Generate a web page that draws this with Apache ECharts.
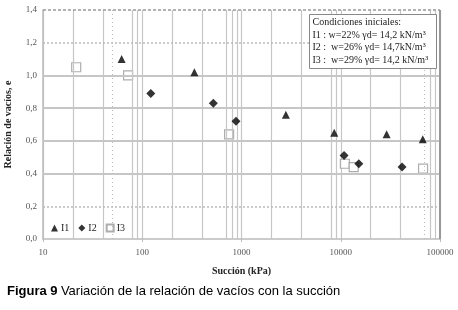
<!DOCTYPE html>
<html>
<head>
<meta charset="utf-8">
<script src="https://cdn.jsdelivr.net/npm/echarts@6/dist/echarts.min.js"></script>
<style>
  html, body { margin: 0; padding: 0; background: #fff; }
  #chart { width: 458px; height: 310px; }
</style>
</head>
<body>
<div id="chart"></div>
<script>
  // datos: [succion kPa, e]
  const serieI1 = [[62, 1.10], [335, 1.02], [2800, 0.76], [8600, 0.65], [29000, 0.64], [67000, 0.61]];
  const serieI2 = [[122, 0.89], [520, 0.83], [880, 0.72], [10800, 0.51], [15200, 0.46], [41500, 0.44]];
  const serieI3 = [[21.6, 1.05], [72, 1.0], [750, 0.64], [11000, 0.46], [13500, 0.44], [67500, 0.43]];
  const nombres = ['I1', 'I2', 'I3'];
  const condiciones = [
    'Condiciones iniciales:',
    'I1 : w=22% \u03b3d= 14,2 kN/m\u00b3',
    'I2 :  w=26% \u03b3d= 14,7kN/m\u00b3',
    'I3 :  w=29% \u03b3d= 14,2 kN/m\u00b3'
  ];

  const serif = '"Liberation Serif", "DejaVu Serif", serif';
  const grisRejilla = '#c6c6c6';

  // lineas de rejilla secundarias (como en el Excel original)
  const verticales = [];
  [10, 100, 1000, 10000].forEach(function(d) {
    [2, 4, 8, 9].forEach(function(m) {
      verticales.push({xAxis: d * m, lineStyle: {type: 'solid', color: grisRejilla, width: 1.2}});
    });
  });
  verticales.push({xAxis: 700, lineStyle: {type: 'solid', color: grisRejilla, width: 1.2}});
  verticales.push({xAxis: 50, lineStyle: {type: [1, 3], color: '#bbb', width: 1}});
  verticales.push({xAxis: 70000, lineStyle: {type: [1, 3], color: '#bbb', width: 1}});
  const horizontales = [
    {yAxis: 0.4, lineStyle: {type: 'solid', color: grisRejilla, width: 2}},
    {yAxis: 0.6, lineStyle: {type: 'solid', color: grisRejilla, width: 2}},
    {yAxis: 0.8, lineStyle: {type: 'solid', color: grisRejilla, width: 2}},
    {yAxis: 1.0, lineStyle: {type: 'solid', color: grisRejilla, width: 2}},
    {yAxis: 0.2, lineStyle: {type: [2, 2], color: '#bbb', width: 1.5}},
    {yAxis: 1.2, lineStyle: {type: [2, 2], color: '#bbb', width: 1.5}},
    {yAxis: 1.4, lineStyle: {type: [3, 2], color: '#999', width: 1.5}}
  ];

  const chart = echarts.init(document.getElementById('chart'), null, {renderer: 'canvas'});
  const options = {
    animation: false,
    backgroundColor: '#fff',
    grid: {left: 43, right: 18, top: 10, bottom: 71, containLabel: false, outerBoundsMode: 'none'},
    legend: {
      left: 46,
      top: 218,
      itemWidth: 7,
      itemHeight: 7,
      itemGap: 9,
      data: nombres,
      textStyle: {fontFamily: serif, fontSize: 10, color: '#222', padding: [0, 0, 0, -2]}
    },
    xAxis: {
      type: 'log',
      logBase: 10,
      min: 10,
      max: 100000,
      name: 'Succión (kPa)',
      nameLocation: 'middle',
      nameGap: 27,
      nameTextStyle: {fontFamily: serif, fontSize: 10, fontWeight: 'bold', color: '#222'},
      axisLine: {lineStyle: {color: '#bbb', width: 1.5}},
      axisTick: {show: true, length: 3, inside: false, lineStyle: {color: '#bbb'}},
      axisLabel: {
        fontFamily: serif, fontSize: 9, color: '#555', margin: 9,
        formatter: function(v) { return String(Math.round(v)); }
      },
      splitLine: {show: true, lineStyle: {color: grisRejilla, width: 1.2}}
    },
    yAxis: {
      type: 'value',
      min: 0,
      max: 1.4,
      interval: 0.2,
      name: 'Relación de vacíos, e',
      nameLocation: 'middle',
      nameGap: 30,
      nameTextStyle: {fontFamily: serif, fontSize: 10, fontWeight: 'bold', color: '#222'},
      axisLine: {show: true, lineStyle: {color: '#bbb', width: 1.5}},
      axisTick: {show: false},
      axisLabel: {
        fontFamily: serif, fontSize: 9, color: '#555', margin: 6,
        formatter: function(v) { return v.toFixed(1).replace('.', ','); }
      },
      splitLine: {show: false}
    },
    series: [
      {
        name: 'rejilla',
        type: 'line',
        data: [],
        silent: true,
        z: 1,
        markLine: {
          silent: true,
          symbol: 'none',
          label: {show: false},
          animation: false,
          data: verticales.concat(horizontales)
        }
      },
      {
        name: 'I1', type: 'scatter', data: serieI1, z: 5,
        symbol: 'triangle', symbolSize: 8,
        itemStyle: {color: '#000'}
      },
      {
        name: 'I2', type: 'scatter', data: serieI2, z: 5,
        symbol: 'diamond', symbolSize: 9,
        itemStyle: {color: '#000'}
      },
      {
        name: 'I3', type: 'scatter', data: serieI3, z: 4,
        symbol: 'rect', symbolSize: 9,
        itemStyle: {color: '#fff', borderColor: '#999', borderWidth: 1.2}
      },
      {
        // marco derecho
        name: 'marco', type: 'line', data: [], silent: true,
        markLine: {
          silent: true, symbol: 'none', label: {show: false},
          data: [{xAxis: 100000, lineStyle: {type: 'solid', color: '#999', width: 2}}]
        }
      }
    ],
    graphic: [
      {
        type: 'group',
        right: 21,
        top: 14,
        z: 100,
        children: [
          {
            type: 'rect',
            z: 100,
            shape: {x: 0, y: 0, width: 127, height: 54},
            style: {fill: '#fff', stroke: '#888', lineWidth: 1}
          },
          {
            type: 'text',
            z: 101,
            left: 3,
            top: 2,
            style: {
              text: condiciones.join('\n'),
              font: '10px ' + serif,
              lineHeight: 12.5,
              fill: '#222'
            }
          }
        ]
      },
      {
        type: 'text',
        left: 7,
        top: 285,
        style: {
          rich: {
            b: {fontFamily: '"Liberation Sans", Arial, sans-serif', fontSize: 13, fontWeight: 'bold', fill: '#000'},
            n: {fontFamily: '"Liberation Sans", Arial, sans-serif', fontSize: 13, fill: '#000'}
          },
          text: '{b|Figura 9} {n|Variación de la relación de vacíos con la succión}'
        }
      }
    ]
  };
  chart.setOption(options);
</script>
</body>
</html>
